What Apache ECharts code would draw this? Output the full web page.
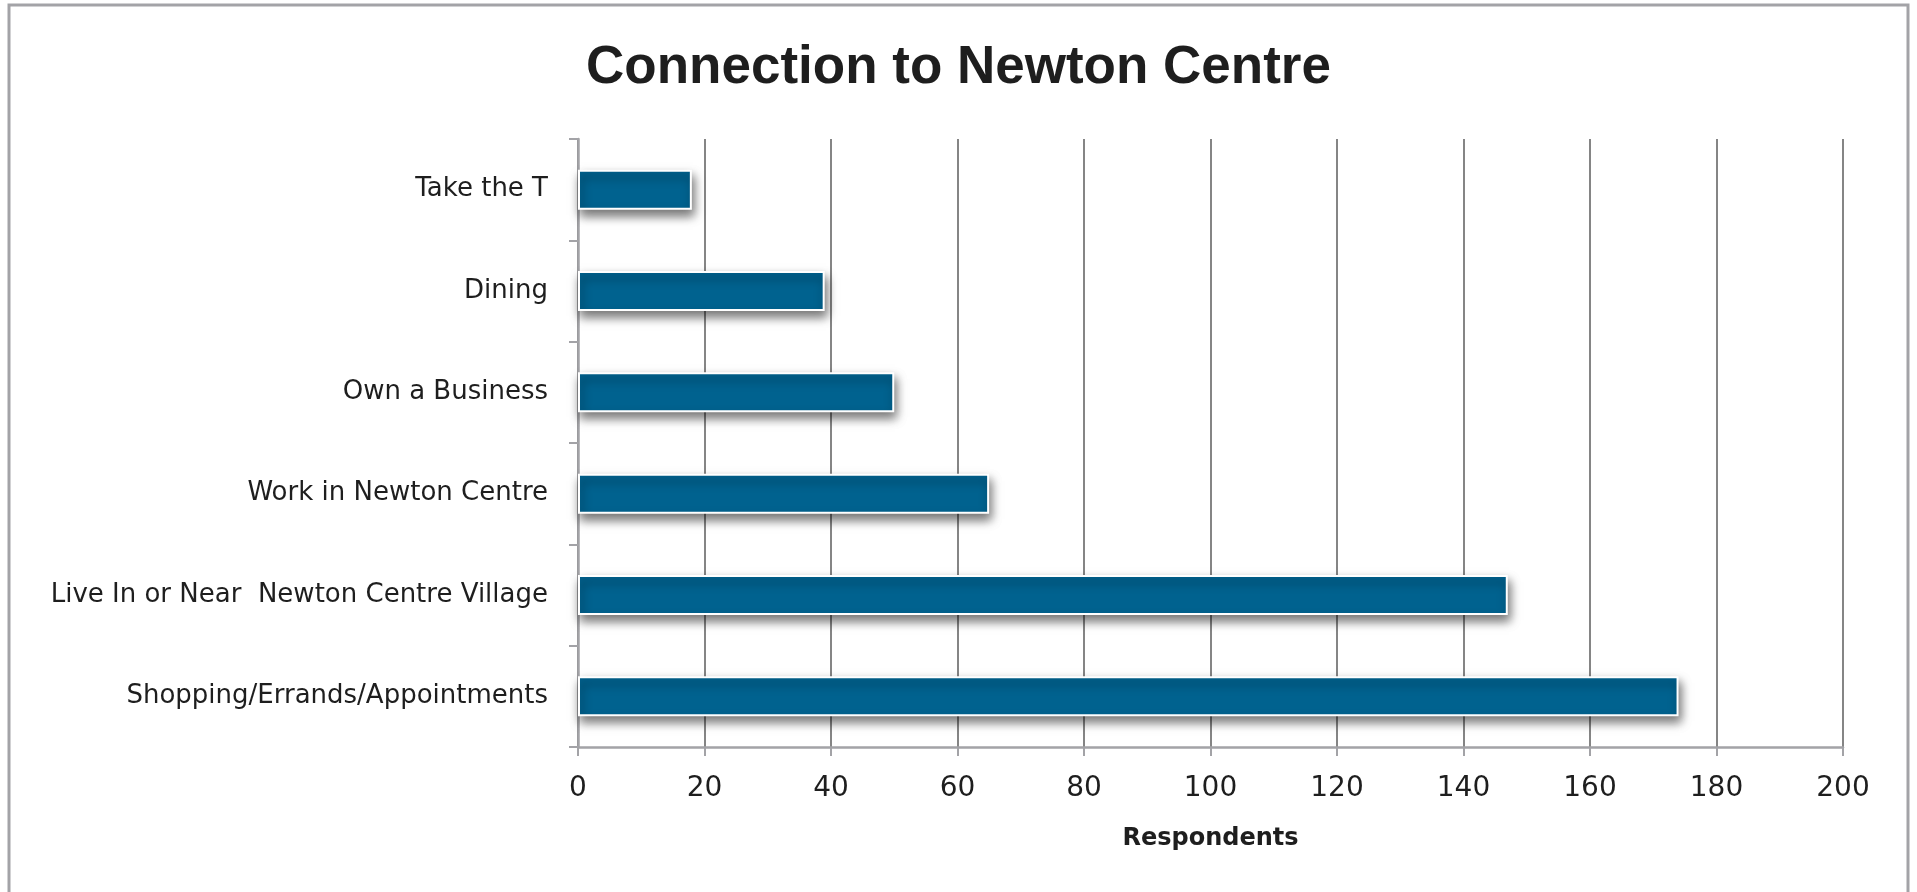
<!DOCTYPE html>
<html><head><meta charset="utf-8">
<script src="https://cdn.jsdelivr.net/npm/echarts@6/dist/echarts.min.js"></script>
<style>html,body{margin:0;padding:0;background:#fff;}#c{width:1917px;height:892px;}</style>
</head><body><div id="c"></div>
<script>
const categories = ["Take the T", "Dining", "Own a Business", "Work in Newton Centre", "Live In or Near  Newton Centre Village", "Shopping/Errands/Appointments"];
const respondents = [18, 39, 50, 65, 147, 174];
const xTicks = {min: 0, max: 200, interval: 20};
const titleText = "Connection to Newton Centre";
const xAxisName = "Respondents";

const chart = echarts.init(document.getElementById('c'), null, {renderer: 'canvas'});
chart.setOption({
  backgroundColor: '#fff',
  animation: false,
  graphic: [{type: 'rect', shape: {x: 9, y: 5, width: 1899, height: 910}, style: {fill: 'none', stroke: '#a3a3a7', lineWidth: 3}, z: 100}],
  title: {text: titleText, left: 'center', top: 37, textStyle: {fontFamily: 'Liberation Sans', fontWeight: 'bold', fontSize: 53, color: '#1e1e1e'}},
  grid: {left: 578, right: 74, top: 139, bottom: 145, containLabel: false},
  xAxis: {
    type: 'value', min: xTicks.min, max: xTicks.max, interval: xTicks.interval,
    name: xAxisName, nameLocation: 'middle', nameGap: 80,
    nameTextStyle: {fontFamily: 'DejaVu Sans', fontWeight: 'bold', fontSize: 24, color: '#1e1e1e'},
    axisLine: {show: true, lineStyle: {color: '#a3a3a7', width: 2.5}},
    axisTick: {show: true, length: 9, lineStyle: {color: '#a3a3a7', width: 2}},
    axisLabel: {margin: 28, fontFamily: 'DejaVu Sans', fontSize: 28, color: '#1e1e1e'},
    splitLine: {show: true, lineStyle: {color: '#858585', width: 2}}
  },
  yAxis: {
    type: 'category', data: categories, inverse: true,
    axisLine: {show: true, lineStyle: {color: '#a3a3a7', width: 2.5}},
    axisTick: {show: true, length: 9, lineStyle: {color: '#a3a3a7', width: 2}},
    axisLabel: {margin: 30, fontFamily: 'DejaVu Sans', fontSize: 26, color: '#1e1e1e'},
    splitLine: {show: false}
  },
  series: [{
    type: 'bar', data: respondents, barWidth: 40,
    itemStyle: {color: '#00628f', borderColor: '#ffffff', borderWidth: 2,
      shadowColor: 'rgba(0,0,0,0.55)', shadowBlur: 10, shadowOffsetX: 2, shadowOffsetY: 6}
  }]
});
</script></body></html>
